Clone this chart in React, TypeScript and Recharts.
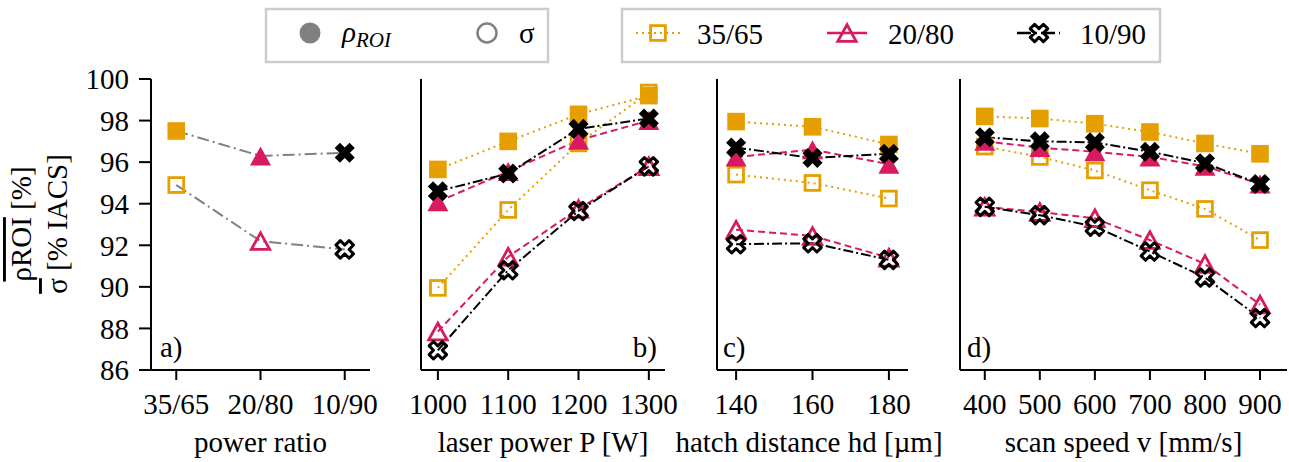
import React from 'react';
import { LineChart, Line, XAxis, YAxis, ReferenceArea } from 'recharts';

// ---------- data ----------
const ratioLabels = ['35/65', '20/80', '10/90'];
const ratioPos = [0, 1, 2];
const ratioRho = [97.5, 96.3, 96.45];
const ratioSigma = [94.9, 92.2, 91.8];

const powers = [1000, 1100, 1200, 1300];
const powerRho35 = [95.65, 97.0, 98.3, 99.2];
const powerSigma35 = [89.95, 93.7, 96.9, 99.35];
const powerRho20 = [94.1, 95.55, 97.05, 98.0];
const powerSigma20 = [87.85, 91.45, 93.75, 95.8];
const powerRho10 = [94.6, 95.45, 97.6, 98.1];
const powerSigma10 = [86.95, 90.8, 93.65, 95.8];

const hatches = [140, 160, 180];
const hatchRho35 = [97.95, 97.7, 96.85];
const hatchSigma35 = [95.4, 95.0, 94.25];
const hatchRho20 = [96.25, 96.6, 95.9];
const hatchSigma20 = [92.75, 92.45, 91.4];
const hatchRho10 = [96.7, 96.2, 96.4];
const hatchSigma10 = [92.05, 92.1, 91.3];

const speeds = [400, 500, 600, 700, 800, 900];
const speedRho35 = [98.2, 98.1, 97.85, 97.45, 96.9, 96.4];
const speedSigma35 = [96.75, 96.25, 95.6, 94.65, 93.75, 92.25];
const speedRho20 = [97.0, 96.7, 96.5, 96.25, 95.8, 94.95];
const speedSigma20 = [93.85, 93.6, 93.3, 92.25, 91.1, 89.15];
const speedRho10 = [97.2, 97.0, 96.95, 96.5, 95.95, 94.95];
const speedSigma10 = [93.85, 93.45, 92.9, 91.7, 90.45, 88.5];

const yTicks = [86, 88, 90, 92, 94, 96, 98, 100];

const axisTitles = ['power ratio', 'laser power P [W]', 'hatch distance hd [µm]', 'scan speed v [mm/s]'];
const panelLetters = ['a)', 'b)', 'c)', 'd)'];

// ---------- styles ----------
const FONT = 'Liberation Serif, DejaVu Serif, serif';
const FS = 29;
const ORANGE = '#E69F00';
const CRIMSON = '#D81B60';
const BLACK = '#000000';
const GRAY = '#808080';

type Shape = 'square' | 'triangle' | 'x';

function Marker({ cx, cy, shape, color, filled }: { cx?: number; cy?: number; shape: Shape; color: string; filled: boolean }) {
  if (cx == null || cy == null || isNaN(cx) || isNaN(cy)) return null;
  const fill = filled ? color : 'none';
  const sw = filled ? 0 : 2.8;
  if (shape === 'square') {
    const h = filled ? 8.8 : 7.4;
    return <rect x={cx - h} y={cy - h} width={2 * h} height={2 * h} fill={fill} stroke={color} strokeWidth={sw} />;
  }
  if (shape === 'triangle') {
    const w = filled ? 10.5 : 9.2;
    const h = filled ? 9.5 : 8.3;
    return (
      <polygon
        points={`${cx},${cy - h} ${cx - w},${cy + h} ${cx + w},${cy + h}`}
        fill={fill}
        stroke={color}
        strokeWidth={sw}
        strokeLinejoin="miter"
      />
    );
  }
  const L = filled ? 10.5 : 9.3;
  const a = filled ? 3.7 : 3.1;
  const base = [
    [a, a], [a, L], [-a, L], [-a, a], [-L, a], [-L, -a],
    [-a, -a], [-a, -L], [a, -L], [a, -a], [L, -a], [L, a],
  ];
  const c = Math.SQRT1_2;
  const pts = base
    .map(([x, y]) => `${cx + (x - y) * c},${cy + (x + y) * c}`)
    .join(' ');
  return <polygon points={pts} fill={fill} stroke={color} strokeWidth={filled ? 0 : 3} strokeLinejoin="round" />;
}

const seriesStyle: Record<string, { color: string; shape: Shape; dash: string }> = {
  '35': { color: ORANGE, shape: 'square', dash: '2 4' },
  '20': { color: CRIMSON, shape: 'triangle', dash: '7 4' },
  '10': { color: BLACK, shape: 'x', dash: '10 3 2 3' },
};

const ratioShapes: Shape[] = ['square', 'triangle', 'x'];
const ratioColors = [ORANGE, CRIMSON, BLACK];

function buildRows(xs: number[], cols: Record<string, number[]>) {
  return xs.map((x, i) => {
    const row: Record<string, number> = { x };
    Object.keys(cols).forEach((k) => {
      row[k] = cols[k][i];
    });
    return row;
  });
}

const ratioRows = buildRows(ratioPos, { rho: ratioRho, sigma: ratioSigma });
const powerRows = buildRows(powers, {
  r35: powerRho35, s35: powerSigma35, r20: powerRho20, s20: powerSigma20, r10: powerRho10, s10: powerSigma10,
});
const hatchRows = buildRows(hatches, {
  r35: hatchRho35, s35: hatchSigma35, r20: hatchRho20, s20: hatchSigma20, r10: hatchRho10, s10: hatchSigma10,
});
const speedRows = buildRows(speeds, {
  r35: speedRho35, s35: speedSigma35, r20: speedRho20, s20: speedSigma20, r10: speedRho10, s10: speedSigma10,
});

const tickStyle = { fontFamily: FONT, fontSize: FS, fill: '#000' };

function seriesLines() {
  const out: React.ReactNode[] = [];
  ['35', '20', '10'].forEach((k) => {
    const st = seriesStyle[k];
    ['r', 's'].forEach((t) => {
      const filled = t === 'r';
      out.push(
        <Line
          key={t + k}
          dataKey={t + k}
          stroke={st.color}
          strokeWidth={2}
          strokeDasharray={st.dash}
          isAnimationActive={false}
          activeDot={false}
          dot={(p: any) => (
            <Marker key={`${t}${k}-${p.index}`} cx={p.cx} cy={p.cy} shape={st.shape} color={st.color} filled={filled} />
          )}
        />
      );
    });
  });
  return out;
}

type PanelProps = {
  left: number;
  width: number;
  yWidth: number;
  rightMargin: number;
  rows: any[];
  domain: [number, number];
  ticks: number[];
  showYLabels: boolean;
  tickFormatter?: (v: number) => string;
  children: React.ReactNode;
};

function Panel(p: PanelProps) {
  return (
    <div style={{ position: 'absolute', left: p.left, top: 0 }}>
      <LineChart width={p.width} height={462} data={p.rows} margin={{ top: 79, right: p.rightMargin, bottom: 0, left: 0 }}>
        <XAxis
          dataKey="x"
          type="number"
          domain={p.domain}
          ticks={p.ticks}
          allowDataOverflow
          height={92}
          tickSize={10}
          tickMargin={13}
          tick={tickStyle}
          tickFormatter={p.tickFormatter}
          axisLine={{ stroke: '#000', strokeWidth: 2 }}
          tickLine={{ stroke: '#000', strokeWidth: 2 }}
          interval={0}
        />
        <YAxis
          type="number"
          domain={[86, 100]}
          ticks={yTicks}
          allowDataOverflow
          width={p.yWidth}
          tickSize={12}
          tickMargin={10}
          tick={p.showYLabels ? tickStyle : false}
          axisLine={{ stroke: '#000', strokeWidth: 2 }}
          tickLine={{ stroke: '#000', strokeWidth: 2 }}
          interval={0}
        />
        <ReferenceArea fill="none" stroke="#000" strokeWidth={2} fillOpacity={0} ifOverflow="visible" />
        {p.children}
      </LineChart>
    </div>
  );
}

const titleCenters = [260.5, 543, 809, 1123.5];

function LegendAndLabels() {
  const t = { fontFamily: FONT, fontSize: FS, fill: '#000' } as const;
  return (
    <svg width={1289} height={462} style={{ position: 'absolute', left: 0, top: 0, pointerEvents: 'none' }}>
      {/* legend box 1 */}
      <rect x={266} y={9} width={282} height={53} fill="#fff" stroke="#cccccc" strokeWidth={2.5} />
      <circle cx={310} cy={33} r={10.5} fill={GRAY} />
      <text x={342} y={42} {...t} fontStyle="italic">
        ρ<tspan fontSize={21} dy={5}>ROI</tspan>
      </text>
      <circle cx={487} cy={33} r={9.5} fill="none" stroke={GRAY} strokeWidth={2.5} />
      <text x={519} y={43} {...t}>σ</text>

      {/* legend box 2 */}
      <rect x={622} y={9} width={538} height={53} fill="#fff" stroke="#cccccc" strokeWidth={2.5} />
      <line x1={636} y1={33} x2={681} y2={33} stroke={ORANGE} strokeWidth={2} strokeDasharray="2 4" />
      <Marker cx={658} cy={33} shape="square" color={ORANGE} filled={false} />
      <text x={697} y={44} {...t}>35/65</text>
      <line x1={827} y1={33} x2={867} y2={33} stroke={CRIMSON} strokeWidth={2.5} />
      <Marker cx={847} cy={33} shape="triangle" color={CRIMSON} filled={false} />
      <text x={888} y={44} {...t}>20/80</text>
      <line x1={1017} y1={33} x2={1060} y2={33} stroke={BLACK} strokeWidth={2.5} strokeDasharray="14 4 2 4" />
      <Marker cx={1039} cy={33} shape="x" color={BLACK} filled={false} />
      <text x={1080} y={44} {...t}>10/90</text>

      {/* y label */}
      <text transform="translate(31,224) rotate(-90)" textAnchor="middle" {...t}>
        <tspan style={{ textDecoration: 'overline' }}>ρROI</tspan>
        <tspan> [%]</tspan>
      </text>
      <text transform="translate(67,224) rotate(-90)" textAnchor="middle" {...t}>
        <tspan style={{ textDecoration: 'overline' }}>σ</tspan>
        <tspan> [% IACS]</tspan>
      </text>

      {/* axis titles */}
      {axisTitles.map((s, i) => (
        <text key={s} x={titleCenters[i]} y={452} textAnchor="middle" {...t}>{s}</text>
      ))}

      {/* panel letters */}
      <text x={160} y={357} {...t}>{panelLetters[0]}</text>
      <text x={657} y={357} textAnchor="end" {...t}>{panelLetters[1]}</text>
      <text x={723} y={357} {...t}>{panelLetters[2]}</text>
      <text x={967} y={357} {...t}>{panelLetters[3]}</text>
    </svg>
  );
}

export default function App() {
  return (
    <div style={{ position: 'absolute', left: 0, top: 0, width: 1289, height: 462, background: '#fff', overflow: 'hidden', fontFamily: FONT }}>
      <Panel
        left={0}
        width={380}
        yWidth={151}
        rightMargin={10}
        rows={ratioRows}
        domain={[-0.3, 2.3]}
        ticks={ratioPos}
        showYLabels
        tickFormatter={(v: number) => ratioLabels[v] ?? ''}
      >
        {['rho', 'sigma'].map((k) => (
          <Line
            key={k}
            dataKey={k}
            stroke={GRAY}
            strokeWidth={2}
            strokeDasharray="12 4 2 4"
            isAnimationActive={false}
            activeDot={false}
            dot={(p: any) => (
              <Marker
                key={`${k}-${p.index}`}
                cx={p.cx}
                cy={p.cy}
                shape={ratioShapes[p.index]}
                color={ratioColors[p.index]}
                filled={k === 'rho'}
              />
            )}
          />
        ))}
      </Panel>
      <Panel
        left={380}
        width={300}
        yWidth={41}
        rightMargin={15}
        rows={powerRows}
        domain={[976, 1323]}
        ticks={powers}
        showYLabels={false}
      >
        {seriesLines()}
      </Panel>
      <Panel
        left={690}
        width={230}
        yWidth={27}
        rightMargin={12}
        rows={hatchRows}
        domain={[135, 185]}
        ticks={hatches}
        showYLabels={false}
      >
        {seriesLines()}
      </Panel>
      <Panel
        left={930}
        width={359}
        yWidth={30}
        rightMargin={2}
        rows={speedRows}
        domain={[355, 949]}
        ticks={speeds}
        showYLabels={false}
      >
        {seriesLines()}
      </Panel>
      <LegendAndLabels />
    </div>
  );
}
